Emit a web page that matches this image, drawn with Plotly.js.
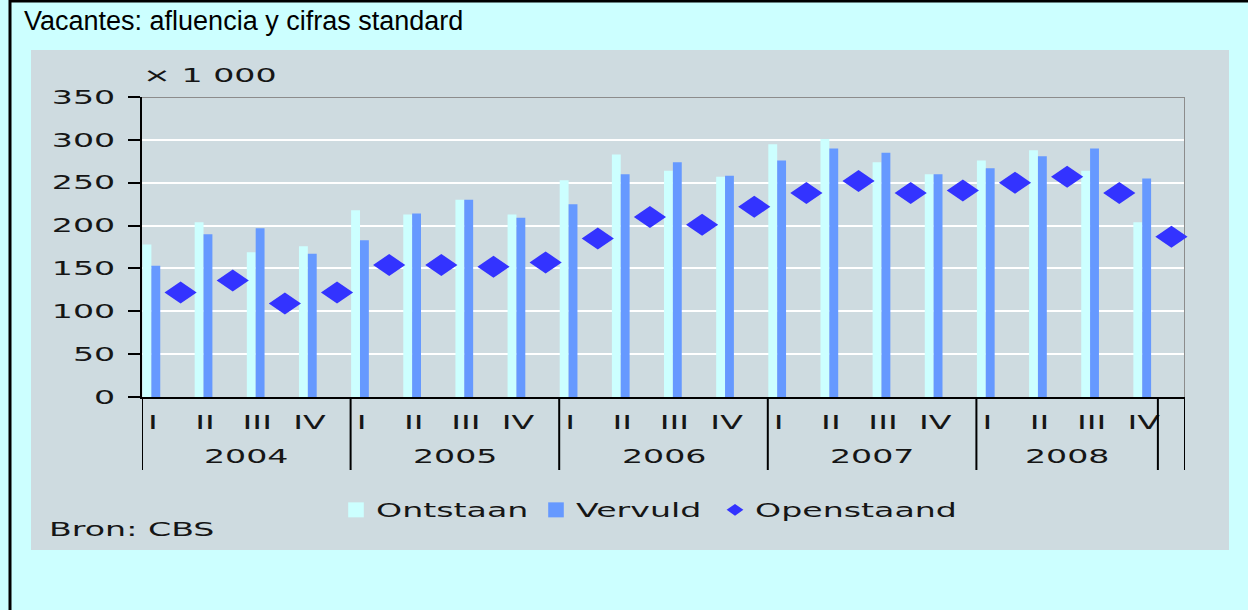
<!DOCTYPE html>
<html><head><meta charset="utf-8">
<script src="https://cdn.plot.ly/plotly-3.0.1.min.js"></script>
<style>html,body{margin:0;padding:0;background:#CCFFFF;overflow:hidden}#chart{width:1248px;height:610px}</style>
</head><body><div id="chart"></div>
<script>
// ---- data (x 1 000) ----
const quarters = ["I", "II", "III", "IV"];
const years = ["2004", "2005", "2006", "2007", "2008"];
const ontstaan = [178, 204, 169, 176, 218, 213, 230, 213, 253, 283, 264, 257, 295, 301, 274, 260, 276, 288, 264, 204];
const vervuld = [153, 190, 197, 167, 183, 214, 230, 209, 225, 260, 274, 258, 276, 290, 285, 260, 267, 281, 290, 255];
const openstaand = [122, 136, 109, 122, 154, 154, 152, 157, 185, 210, 201, 222, 238, 252, 238, 241, 250, 257, 238, 187];

// ---- geometry / style ----
const L = 142, R = 1185, T = 97, B = 397;
const px = X => (X - L) / (R - L);
const py = Y => (B - Y) / (B - T);
const FONT = "DejaVu Sans";
const TXT = "#161616";
const PANEL = "#CEDBE0";
const lastSep = 19.48;

const idx = ontstaan.map((_, i) => i);
const nQ = quarters.length;

const data = [
  {type: "bar", name: "Ontstaan", x: idx, y: ontstaan, offset: 0.01, width: 0.17,
   marker: {color: "#CCFFFF", line: {width: 0}}, legend: "legend"},
  {type: "bar", name: "Vervuld", x: idx, y: vervuld, offset: 0.18, width: 0.17,
   marker: {color: "#6699FF", line: {width: 0}}, legend: "legend2"},
  {type: "scatter", mode: "markers", name: "Openstaand", x: idx.map(i => i + 0.74), y: openstaand,
   marker: {symbol: "diamond-wide", size: 23, color: "#3333FF", line: {width: 0}},
   cliponaxis: false, legend: "legend3"}
];

const yearStarts = years.map((_, k) => k * nQ);
const sepX = yearStarts.concat([lastSep, idx.length]);

const shapes = [
  {type: "rect", xref: "paper", yref: "paper", x0: px(31), x1: px(1229), y0: py(550), y1: py(50),
   fillcolor: PANEL, line: {width: 0}, layer: "below"},
  {type: "line", xref: "paper", yref: "paper", x0: px(10), x1: px(10), y0: py(612), y1: py(-2),
   line: {color: "#000", width: 3}},
  {type: "line", xref: "paper", yref: "paper", x0: px(9), x1: px(1250), y0: py(1), y1: py(1),
   line: {color: "#000", width: 3}},
  {type: "line", xref: "x", yref: "y", x0: 0, x1: idx.length, y0: 350, y1: 350, layer: "between",
   line: {color: "#8c8c8c", width: 2}},
  {type: "line", xref: "x", yref: "y", x0: idx.length, x1: idx.length, y0: 0, y1: 350, layer: "between",
   line: {color: "#8c8c8c", width: 2}}
].concat(sepX.map(x => ({type: "line", xref: "x", yref: "paper", x0: x, x1: x, y0: 0, y1: py(470),
   line: {color: "#000", width: 2}})));

const annotations = [
  {text: "× 1 000", xref: "paper", yref: "paper", x: px(141), y: py(75), xanchor: "left", yanchor: "middle",
   showarrow: false, font: {family: FONT, size: 19, color: TXT}},
  {text: "Bron: CBS", xref: "paper", yref: "paper", x: px(47), y: py(529), xanchor: "left", yanchor: "middle",
   showarrow: false, font: {family: FONT, size: 19, color: TXT}}
].concat(years.map((yr, k) => ({
  text: yr, xref: "x", yref: "paper",
  x: (yearStarts[k] + Math.min(yearStarts[k] + nQ, lastSep)) / 2, y: py(456),
  xanchor: "center", yanchor: "middle", showarrow: false, font: {family: FONT, size: 19, color: TXT}
})));

const legendBase = {orientation: "h", yanchor: "middle", xanchor: "left", bgcolor: "rgba(0,0,0,0)",
  font: {family: FONT, size: 19, color: TXT}, borderwidth: 0, itemsizing: "constant"};

const layout = {
  width: 1248, height: 610,
  margin: {l: L, r: 1248 - R, t: T, b: 610 - B, pad: 0},
  paper_bgcolor: "#CCFFFF", plot_bgcolor: PANEL,
  title: {text: "Vacantes: afluencia y cifras standard", x: 24 / 1248, xanchor: "left", xref: "container",
          y: 1 - 21 / 610, yanchor: "middle", yref: "container",
          font: {family: "Liberation Sans, Arial", size: 27, color: "#000"}},
  barmode: "overlay",
  showlegend: true,
  legend: Object.assign({}, legendBase, {x: px(336), y: py(510)}),
  legend2: Object.assign({}, legendBase, {x: px(536), y: py(510)}),
  legend3: Object.assign({}, legendBase, {x: px(715), y: py(510)}),
  xaxis: {range: [0, idx.length], tickvals: idx.map(i => i + 0.21), ticktext: idx.map(i => quarters[i % nQ]),
          ticks: "", showgrid: false, zeroline: false, showline: true, linecolor: "#000", linewidth: 2,
          ticklabelstandoff: 7, tickfont: {family: FONT, size: 19, color: TXT}, fixedrange: true},
  yaxis: {range: [0, 350], dtick: 50, tick0: 0, ticks: "outside", ticklen: 12, tickwidth: 2, tickcolor: "#000",
          showline: true, linecolor: "#000", linewidth: 2, showgrid: true, gridcolor: "#FFFFFF", gridwidth: 2,
          zeroline: false, ticklabelstandoff: 9, tickfont: {family: FONT, size: 19, color: TXT}, fixedrange: true},
  shapes: shapes,
  annotations: annotations
};

// post-render cosmetic adjustments (horizontal stretch of the bitmap-like chart font, marker aspect)
const SX = 1.75;
function applyTf(el, extra) {
  const cur = el.getAttribute("transform") || "";
  if (el.dataset.applied !== undefined && cur === el.dataset.applied) return;
  const out = cur + " " + extra;
  el.setAttribute("transform", out);
  el.dataset.applied = out;
}
function stretchText(t, mode) {
  const cur = t.getAttribute("transform") || "";
  if (t.dataset.applied !== undefined && cur === t.dataset.applied) return;
  let bb;
  try { bb = t.getBBox(); } catch (e) { return; }
  let ox = bb.x;
  if (mode === "end") ox = bb.x + bb.width;
  else if (mode === "middle") ox = bb.x + bb.width / 2;
  applyTf(t, "translate(" + ox + ",0) scale(" + SX + ",1) translate(" + (-ox) + ",0)");
}
function fix(gd) {
  gd.querySelectorAll(".xtick text, .ytick text").forEach(t => {
    stretchText(t, t.getAttribute("text-anchor") || "start");
  });
  gd.querySelectorAll(".infolayer g[class^='legend'] text").forEach(t => {
    if (!t.textContent.trim()) return;
    stretchText(t, "start");
  });
  gd.querySelectorAll("g.annotation").forEach(g => {
    const i = +g.getAttribute("data-index");
    const a = layout.annotations[i];
    const t = g.querySelector("text.annotation-text");
    if (t && a) stretchText(t, a.xanchor === "left" ? "start" : "middle");
  });
  gd.querySelectorAll(".infolayer g[class^='legend'] [clip-path], .scrollbox").forEach(e => e.removeAttribute("clip-path"));
  gd.querySelectorAll(".scatterlayer .points path.point").forEach(p => applyTf(p, "scale(1,1.37)"));
  gd.querySelectorAll(".legendpoints path.scatterpts").forEach(p => applyTf(p, "scale(1.0,1.4)"));
  gd.querySelectorAll(".legendpoints .legendundefined, .legendpoints path.legendbar").forEach(p => applyTf(p, "scale(1.3,1.25)"));
}

Plotly.newPlot("chart", data, layout, {staticPlot: true, displayModeBar: false}).then(gd => {
  fix(gd);
  gd.on && gd.on("plotly_afterplot", () => fix(gd));
  [50, 200, 600].forEach(ms => setTimeout(() => fix(gd), ms));
});
</script>
</body></html>
